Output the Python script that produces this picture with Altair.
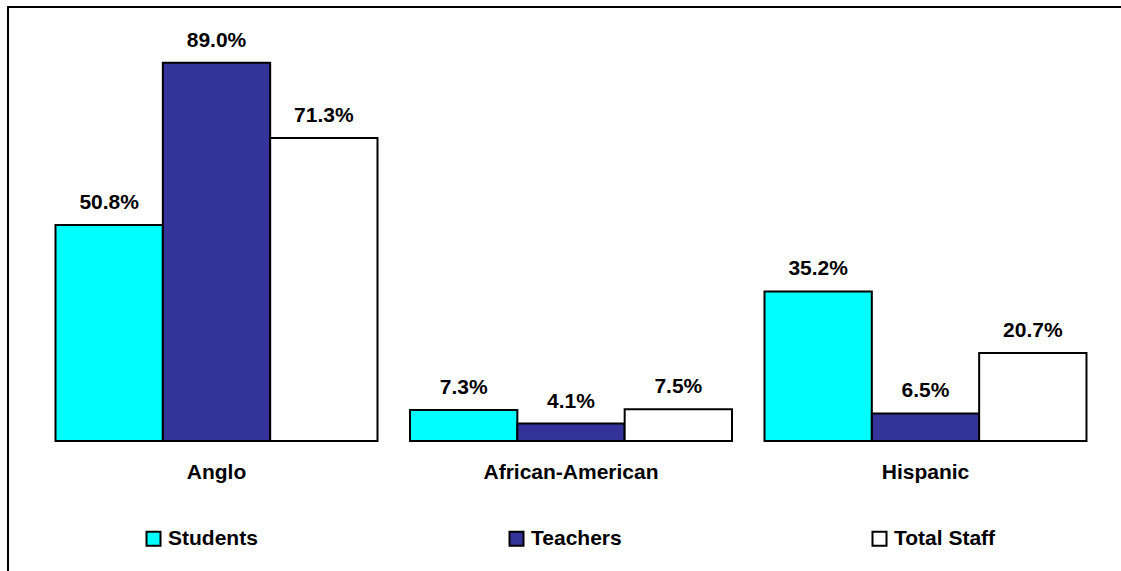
import altair as alt
import pandas as pd

groups = ["Anglo", "African-American", "Hispanic"]
series = ["Students", "Teachers", "Total Staff"]
students = [50.8, 7.3, 35.2]
teachers = [89.0, 4.1, 6.5]
total_staff = [71.3, 7.5, 20.7]
colors = ["#00FFFF", "#333399", "#FFFFFF"]

rows = []
for i, g in enumerate(groups):
    for s, vals in zip(series, [students, teachers, total_staff]):
        rows.append({"group": g, "series": s, "value": vals[i], "label": f"{vals[i]:.1f}%"})
df = pd.DataFrame(rows)

FONT = "Liberation Sans"
FS = 21

x = alt.X("group:N", sort=groups, title=None,
          scale=alt.Scale(paddingInner=0.0917, paddingOuter=0.0466),
          axis=alt.Axis(labelAngle=0, domain=False, ticks=False, labelPadding=20,
                        labelFont=FONT, labelFontWeight="bold", labelFontSize=FS,
                        labelColor="black"))
xo = alt.XOffset("series:N", sort=series, scale=alt.Scale(paddingInner=0, paddingOuter=0))
y = alt.Y("value:Q", scale=alt.Scale(domain=[0, 100], nice=False), axis=None)

bars = alt.Chart(df).mark_bar(stroke="black", strokeWidth=2).encode(
    x=x, xOffset=xo, y=y,
    color=alt.Color("series:N", sort=series,
                    scale=alt.Scale(domain=series, range=colors),
                    legend=alt.Legend(title=None, orient="none", direction="horizontal",
                                      legendX=104, legendY=512, columns=3,
                                      gridAlign="all", columnPadding=235,
                                      symbolType="square", symbolSize=196,
                                      symbolStrokeColor="black", symbolStrokeWidth=2,
                                      labelFont=FONT, labelFontWeight="bold",
                                      labelFontSize=FS, labelColor="black",
                                      labelOffset=4, padding=0)),
)

labels = alt.Chart(df).mark_text(font=FONT, fontWeight="bold", fontSize=FS,
                                 baseline="alphabetic", dy=-16, color="black").encode(
    x=x, xOffset=xo, y=y, text="label:N")

top_line = alt.Chart(df).mark_rule(color="black", strokeWidth=2).encode(
    x=alt.value(-31), x2=alt.value(1090), y=alt.value(-9))
left_line = alt.Chart(df).mark_rule(color="black", strokeWidth=2).encode(
    x=alt.value(-31), y=alt.value(-10), y2=alt.value(560))

chart = alt.layer(bars, labels, top_line, left_line).properties(
    width=1064, height=425,
    autosize=alt.AutoSizeParams(type="none"),
    padding={"left": 39, "top": 16, "right": 18, "bottom": 130},
    background="white",
).configure_view(stroke=None)

chart.save("out.html", embed_options={"renderer": "svg", "actions": False})
